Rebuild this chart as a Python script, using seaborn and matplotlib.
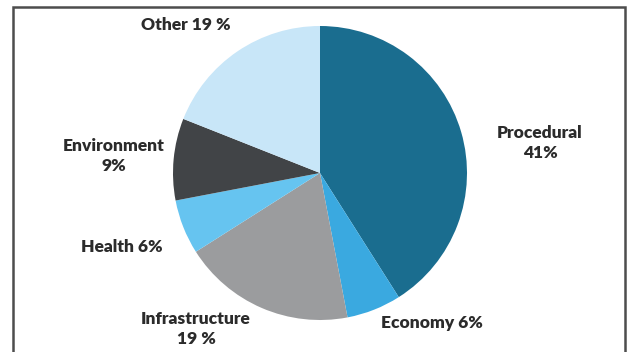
import numpy as np
import seaborn as sns
import matplotlib.pyplot as plt
from matplotlib.patches import Rectangle

# data (clockwise from 12 o'clock)
categories = ["Procedural", "Economy", "Infrastructure", "Health", "Environment", "Other"]
shares = [41, 6, 19, 6, 9, 19]
label_texts = ["Procedural\n41%", "Economy 6%", "Infrastructure\n19 %", "Health 6%", "Environment\n9%", "Other 19 %"]
slice_colors = ["#1a6d8f", "#3aa9e0", "#9b9c9e", "#66c4f0", "#414447", "#c8e6f8"]

sns.set_theme(style="white")
plt.rcParams['font.family'] = ['Lato', 'DejaVu Sans']

W, H = 629, 352
fig = plt.figure(figsize=(W / 100, H / 100), dpi=100)
ax = fig.add_axes([0, 0, 1, 1])

palette = sns.color_palette(slice_colors)
ax.pie(shares, colors=palette, startangle=90, counterclock=False,
       center=(320, H - 173), radius=147,
       wedgeprops=dict(linewidth=0))

# label centers in pixel coords (x, y from top)
label_pos = [(540, 143), (432, 323), (196, 329), (122, 247), (114, 156), (186, 25)]
for txt, (x, y) in zip(label_texts, label_pos):
    ax.text(x, H - y, txt, ha="center", va="center", fontsize=12.5,
            fontweight="heavy", color="#2b2b2b", linespacing=1.35)

# outer frame
ax.add_patch(Rectangle((13, -10), 612, H - 7 + 10, fill=False,
                       edgecolor="#4d4d4d", linewidth=1.8, clip_on=False))

ax.set_xlim(0, W)
ax.set_ylim(0, H)
ax.set_aspect("equal")
ax.axis("off")

fig.savefig("out.png", dpi=100)
